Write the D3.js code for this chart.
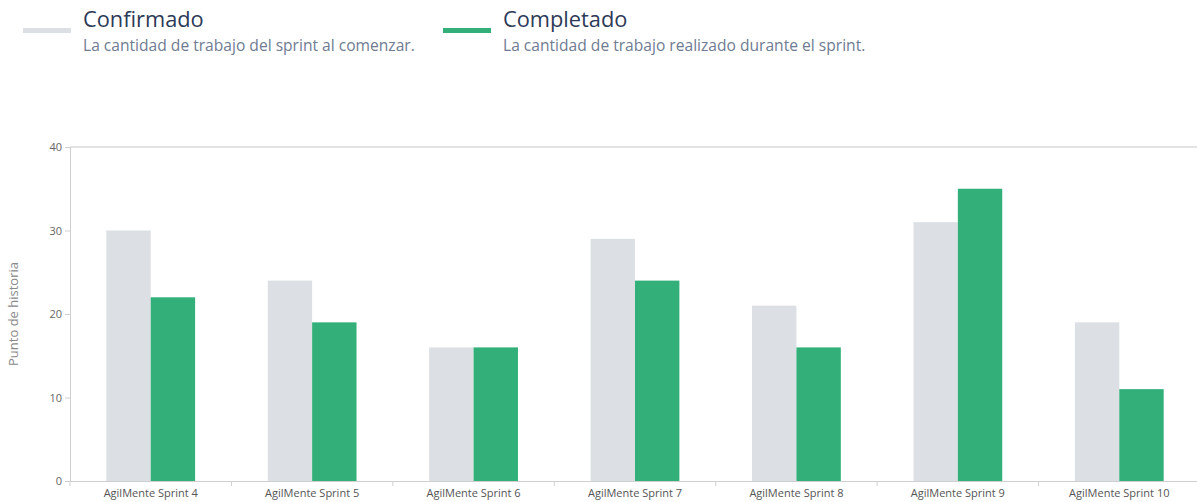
<!DOCTYPE html>
<html>
<head>
<meta charset="utf-8">
<script src="https://cdn.jsdelivr.net/npm/d3@7"></script>
<style>
  html, body { margin: 0; padding: 0; background: #fff; }
  svg { display: block; font-family: "Open Sans", "Noto Sans", sans-serif; }
</style>
</head>
<body>
<svg id="chart" width="1197" height="502"></svg>
<script>
// Sprint velocity: committed vs completed story points
const sprints = ["AgilMente Sprint 4", "AgilMente Sprint 5", "AgilMente Sprint 6", "AgilMente Sprint 7", "AgilMente Sprint 8", "AgilMente Sprint 9", "AgilMente Sprint 10"];
const confirmado = [30, 24, 16, 29, 21, 31, 19];
const completado = [22, 19, 16, 24, 16, 35, 11];
const yTicks = [0, 10, 20, 30, 40];
const seriesNames = ["Confirmado", "Completado"];
const seriesNotes = ["La cantidad de trabajo del sprint al comenzar.", "La cantidad de trabajo realizado durante el sprint."];
const seriesColors = ["#dcdfe3", "#33b07a"];

const svg = d3.select("#chart");
const plotLeft = 70, plotRight = 1200, plotTop = 147, plotBottom = 481;

const x = d3.scaleBand().domain(sprints).range([plotLeft, plotRight]).paddingInner(0).paddingOuter(0);
const sub = d3.scaleBand().domain(seriesNames).range([0, x.bandwidth() * 0.55]);
const y = d3.scaleLinear().domain([0, 40]).range([plotBottom, plotTop]);

// legend
const legend = svg.append("g");
const legendX = [23, 443];
seriesNames.forEach((name, i) => {
  const g = legend.append("g").attr("transform", `translate(${legendX[i]},0)`);
  g.append("rect").attr("x", 0).attr("y", 28).attr("width", 48).attr("height", 5).attr("fill", seriesColors[i]);
  g.append("text").attr("x", 60).attr("y", 27).attr("font-size", 21.8).attr("fill", "#2c3a58").text(name);
  g.append("text").attr("x", 60).attr("y", 51).attr("font-size", 15.6).attr("fill", "#6f7b92").text(seriesNotes[i]);
});

// top frame line
svg.append("line").attr("x1", plotLeft).attr("x2", 1197).attr("y1", plotTop).attr("y2", plotTop)
  .attr("stroke", "#e3e3e3").attr("stroke-width", 2);

// bars
const groups = svg.append("g").selectAll("g").data(sprints).join("g")
  .attr("transform", d => `translate(${x(d) + (x.bandwidth() - sub.range()[1]) / 2},0)`);
groups.selectAll("rect")
  .data((d, i) => [{ s: seriesNames[0], v: confirmado[i] }, { s: seriesNames[1], v: completado[i] }])
  .join("rect")
  .attr("x", d => sub(d.s))
  .attr("width", sub.bandwidth())
  .attr("y", d => y(d.v))
  .attr("height", d => y(0) - y(d.v))
  .attr("fill", (d, i) => seriesColors[i]);

// y axis
const yAxis = svg.append("g").attr("transform", `translate(${plotLeft},0)`)
  .call(d3.axisLeft(y).tickValues(yTicks).tickSize(5).tickPadding(3));
yAxis.select(".domain").attr("stroke", "#cfcfcf");
yAxis.selectAll(".tick line").attr("stroke", "#cfcfcf");
yAxis.selectAll(".tick text").attr("fill", "#666").attr("font-size", 11).attr("font-family", "Open Sans, sans-serif");

// x axis
const xAxis = svg.append("g").attr("transform", `translate(0,${plotBottom})`)
  .call(d3.axisBottom(x).tickSize(0).tickPadding(8));
xAxis.select(".domain").attr("stroke", "#cfcfcf");
xAxis.selectAll(".tick text").attr("fill", "#555").attr("font-size", 11).attr("font-family", "Open Sans, sans-serif");
// separators between categories
xAxis.append("g").selectAll("line").data(sprints).join("line")
  .attr("x1", d => x(d)).attr("x2", d => x(d)).attr("y1", 0).attr("y2", 5)
  .attr("stroke", "#cfcfcf");

// y axis title
svg.append("text")
  .attr("transform", `translate(18,${(plotTop + plotBottom) / 2}) rotate(-90)`)
  .attr("text-anchor", "middle").attr("font-size", 13).attr("fill", "#8a8a8a")
  .text("Punto de historia");
</script>
</body>
</html>
